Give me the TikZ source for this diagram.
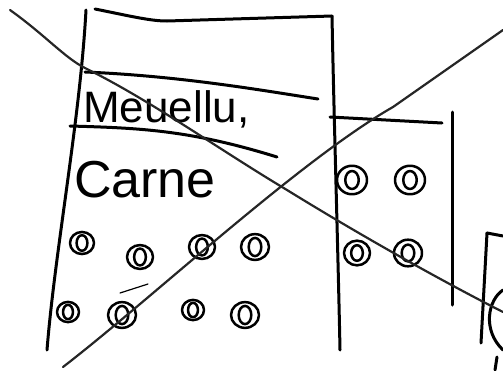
\documentclass[tikz,border=0pt]{standalone}
\usepackage{fontspec}
\setmainfont{Liberation Sans}
\begin{document}
\begin{tikzpicture}[x=1pt,y=-1pt,line cap=round,line join=round,
  pen/.style={line width=3pt,black},
  xline/.style={line width=2.2pt,black!85},
  scrib/.style={line width=2.5pt,black},
  hand/.style={inner sep=0pt,anchor=base west}]
\useasboundingbox (0,0) rectangle (503,370);
% big building
\draw[pen] (86,10) .. controls (80,120) and (55,250) .. (47,350);
\draw[pen] (95,9) .. controls (130,16) and (150,21) .. (167,21) -- (332,16);
\draw[pen] (332,16) .. controls (334,120) and (338,250) .. (340,350);
% menu band
\draw[pen] (85,72) .. controls (180,76) and (260,90) .. (318,99);
\draw[pen] (70,126) .. controls (140,128) and (190,130) .. (277,157);
\node[hand,font=\fontsize{44}{44}\selectfont] (menu) at (83,122) {Meuellu,};
\node[hand,font=\fontsize{52}{52}\selectfont] (carne) at (74,197) {Carne};
% dots in big building
\foreach \x/\y/\r in {82/243/12,140/257/13,202/247/13,255/247/14,68/312/11,122/315/14,193/310/11,245/315/14}{
  \draw[scrib] (\x,\y) ellipse ({\r} and {\r*0.92});
  \draw[scrib] (\x,\y) ellipse ({\r*0.45} and {\r*0.65});
}
\draw[line width=1.2pt] (120,293) -- (148,284);
% right building
\draw[pen] (330,117) -- (442,123);
\draw[pen] (452,112) -- (452,305);
\foreach \x/\y/\r in {352/180/15,410/180/15,357/253/13,408/253/14}{
  \draw[scrib] (\x,\y) ellipse ({\r} and {\r*0.95});
  \draw[scrib] (\x,\y) ellipse ({\r*0.45} and {\r*0.6});
}
% partial shape bottom right
\draw[pen] (487,233) -- (481,343);
\draw[pen] (487,233) -- (503,236);
\draw[pen] (503,290) .. controls (488,300) and (482,330) .. (503,350);
\draw[pen] (497,357) -- (495,370);
% big cross
\draw[xline] (10,10) .. controls (45,35) and (65,58) .. (85,68)
  .. controls (150,100) and (220,150) .. (287,190)
  .. controls (360,235) and (440,280) .. (503,312);
\draw[xline] (63,367) .. controls (150,300) and (300,160) .. (393,107) -- (503,30);
\end{tikzpicture}
\end{document}
